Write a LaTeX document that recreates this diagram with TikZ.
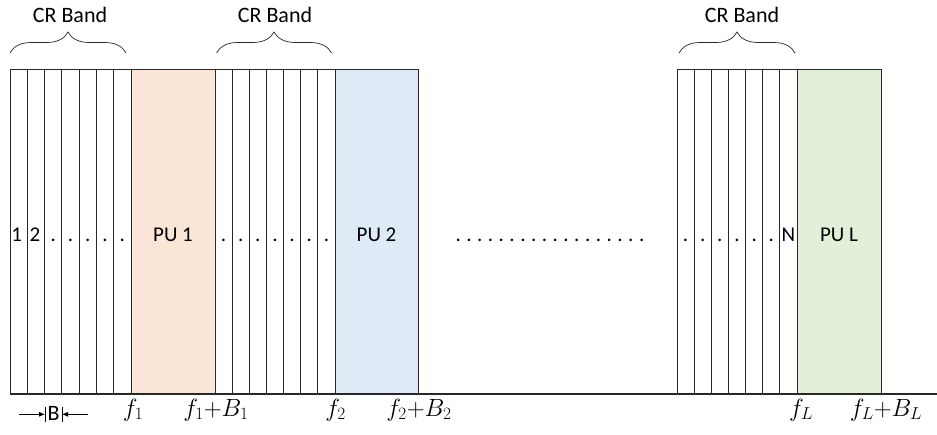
\documentclass[tikz,border=0pt]{standalone}
\usepackage{fontspec}
\setmainfont{Carlito}
\usetikzlibrary{decorations.pathreplacing,arrows.meta}
\definecolor{puorange}{RGB}{251,229,214}
\definecolor{publue}{RGB}{222,235,247}
\definecolor{pugreen}{RGB}{226,240,217}
\definecolor{edge}{RGB}{40,40,40}
\begin{document}
\begin{tikzpicture}[x=1pt,y=-1pt,
  cellbox/.style={draw=edge, line width=0.8pt, minimum height=324.5pt, inner sep=0pt, outer sep=0pt, anchor=north west},
  pubox/.style={cellbox, minimum width=84pt},
  lab/.style={font=\fontsize{21}{25}\selectfont, inner sep=0pt, anchor=base},
  crlab/.style={font=\fontsize{22}{26}\selectfont, inner sep=0pt},
  flab/.style={font=\fontsize{23}{27}\selectfont, inner sep=0pt, anchor=base},
  bracestyle/.style={decorate, decoration={brace, amplitude=21pt}, line width=0.7pt, draw=edge},
  arr/.style={-{Latex[length=6pt,width=5pt]}, line width=0.8pt}
]
\useasboundingbox (0,0) rectangle (937,434);

% group 1 cells
\foreach \i in {1,...,7}{
  \node[cellbox, minimum width=17.286pt] (a\i) at ({10+(\i-1)*17.286},69.5) {};
}
\node[pubox, fill=puorange] (pu1) at (131,69.5) {};
% group 2 cells
\foreach \i in {1,...,7}{
  \node[cellbox, minimum width=17.143pt] (b\i) at ({215+(\i-1)*17.143},69.5) {};
}
\node[pubox, fill=publue, minimum width=83pt] (pu2) at (335,69.5) {};
% group 3 cells
\foreach \i in {1,...,7}{
  \node[cellbox, minimum width=17.143pt] (c\i) at ({677+(\i-1)*17.143},69.5) {};
}
\node[pubox, fill=pugreen] (puL) at (797,69.5) {};

% baseline
\coordinate (baseend) at (937,394);
\draw[line width=1.2pt, draw=edge] (a1.south west) -- (baseend);

% cell labels
\node[lab] (t1) at ([xshift=-2pt]a1.center |- 0,241) {1};
\node[lab] (t2) at ([xshift=-1pt]a2.center |- 0,241) {2};
\foreach \i in {3,...,7}{ \node[lab] (ta\i) at (a\i.center |- 0,241) {.}; }
\foreach \i in {1,...,7}{ \node[lab] (tb\i) at (b\i.center |- 0,241) {.}; }
\foreach \i in {1,...,6}{ \node[lab] (tc\i) at (c\i.center |- 0,241) {.}; }
\node[lab] (tN) at (c7.center |- 0,241) {N};
\node[lab] (tpu1) at (pu1.center |- 0,241) {PU 1};
\node[lab] (tpu2) at (pu2.center |- 0,241) {PU 2};
\node[lab] (tpuL) at (puL.center |- 0,241) {PU L};

% middle dots row
\def\dd{.\hspace{5.5pt}}
\node[lab] (middots) at (550,241) {\dd\dd\dd\dd\dd\dd\dd\dd\dd\dd\dd\dd\dd\dd\dd\dd\dd.};

% braces
\coordinate (br1s) at (10,53);  \coordinate (br1e) at (126,53);
\coordinate (br2s) at (216.5,53); \coordinate (br2e) at (331.5,53);
\coordinate (br3s) at (679,53); \coordinate (br3e) at (795,53);
\draw[bracestyle] (br1s) -- (br1e);
\draw[bracestyle] (br2s) -- (br2e);
\draw[bracestyle] (br3s) -- (br3e);
\node[crlab] (cr1) at (70,15) {CR Band};
\node[crlab] (cr2) at (275,15) {CR Band};
\node[crlab] (cr3) at (742,15) {CR Band};

% B width marker
\coordinate (bl0) at (45,407); \coordinate (bl1) at (45,421.5);
\coordinate (br0) at (62,407); \coordinate (br1) at (62,421.5);
\draw[line width=0.8pt] (bl0) -- (bl1);
\draw[line width=0.8pt] (br0) -- (br1);
\node[lab, font=\fontsize{22}{26}\selectfont] (Blab) at (53.5,420) {B};
\coordinate (arL) at (19,414.3); \coordinate (arLe) at (45,414.3);
\coordinate (arR) at (88,414.3); \coordinate (arRe) at (62,414.3);
\draw[arr] (arL) -- (arLe);
\draw[arr] (arR) -- (arRe);

% frequency labels
\node[flab] (f1) at (133,416) {$f_1$};
\node[flab] (f1b) at (216,416) {$f_1{+}B_1$};
\node[flab] (f2) at (335.5,416) {$f_2$};
\node[flab] (f2b) at (419,416) {$f_2{+}B_2$};
\node[flab] (fL) at (801,416) {$f_L$};
\node[flab] (fLb) at (886,416) {$f_L{+}B_L$};
\end{tikzpicture}
\end{document}
